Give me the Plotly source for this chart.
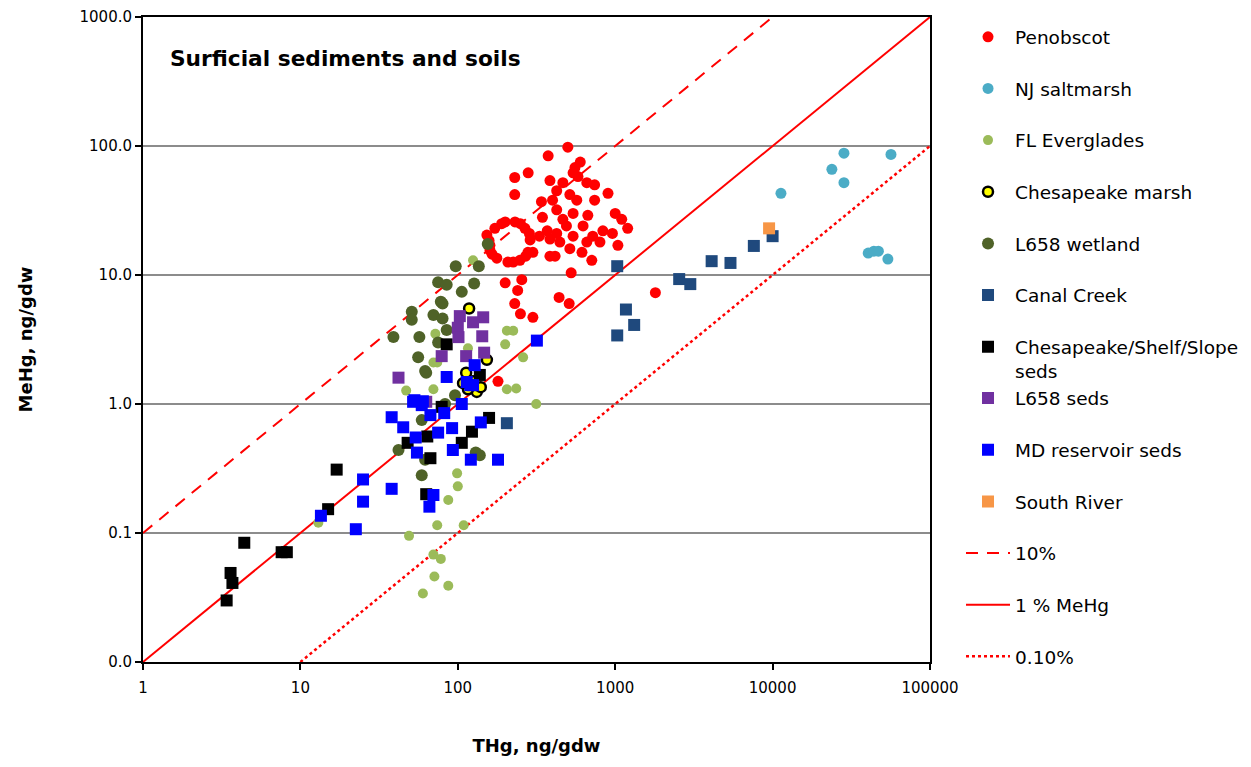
import plotly.graph_objects as go

# ---------------- data (THg ng/gdw, MeHg ng/gdw) ----------------
penobscot_x = [500, 375, 600, 555, 540, 580, 230, 280, 385, 230, 465, 660, 740, 900, 425, 515, 740, 340, 400, 570,
               425, 540, 670, 345, 1000, 1100, 1200, 465, 490, 370, 425, 625, 835, 960, 540, 720, 330, 385, 445, 515,
               660, 800, 1040, 415, 615, 710, 300,
               153, 160, 172, 200, 231, 267, 288, 279, 248, 208, 177, 160, 190, 250, 285, 270, 225, 165, 158,
               200, 255, 240, 230, 250, 300, 440, 510, 525, 1800, 385, 180]
penobscot_y = [98, 84, 75, 68, 62, 58, 57, 62, 54, 42, 52, 52, 50, 43, 45, 42, 38, 37, 38, 38,
               32, 30, 29, 28, 30, 27, 23, 27, 24, 22, 21, 24, 22, 21, 20, 20, 20, 19, 18, 16,
               18, 18, 17, 14, 15, 13, 15,
               20.4, 15.6, 23, 25.8, 25.8, 23, 18.7, 15, 13, 12.6, 13.5, 17, 25, 25, 21, 14, 12.6, 14.5, 18.5,
               8.7, 9.2, 7.6, 6, 5, 4.7, 6.7, 6, 10.4, 7.3, 14, 1.5]

nj_x = [11300, 23800, 28400, 28400, 56500, 40500, 44000, 47000, 54000]
nj_y = [43, 66, 52, 88, 86, 14.8, 15.3, 15.3, 13.3]

fl_x = [74, 109, 49, 70, 78, 71, 87, 60, 99, 100, 87, 13, 205, 225, 200, 260, 205, 235, 315, 72, 70, 47, 70, 125, 116, 74]
fl_y = [0.115, 0.115, 0.095, 0.068, 0.063, 0.046, 0.039, 0.034, 0.29, 0.23, 0.18, 0.12, 3.7, 3.7, 2.9, 2.3, 1.3, 1.32, 1.0,
        3.5, 2.1, 1.27, 1.3, 13, 2.7, 2.1]

marsh_x = [118, 153, 113, 132, 116, 108, 125, 140]
marsh_y = [5.5, 2.2, 1.75, 1.24, 1.3, 1.45, 1.5, 1.35]

wet_x = [155, 97, 136, 75, 85, 127, 106, 78, 51, 51, 70, 80, 39, 57, 75, 56, 62, 85, 63, 96, 83, 59, 42, 138, 130, 59, 62, 80]
wet_y = [17.4, 11.7, 11.7, 8.8, 8.4, 8.6, 7.4, 6.2, 5.2, 4.5, 4.9, 4.6, 3.3, 3.3, 3.0, 2.3, 1.8, 3.75, 1.75, 1.17, 1.0, 0.75,
         0.44, 0.40, 0.42, 0.28, 0.37, 6.0]

canal_x = [1030, 2550, 3000, 4100, 5400, 7600, 10000, 1170, 1320, 1030, 205]
canal_y = [11.7, 9.3, 8.5, 12.8, 12.4, 16.8, 20, 5.4, 4.1, 3.4, 0.71]

shelf_x = [17, 4.4, 7.6, 8.2, 3.6, 3.7, 3.4, 15, 63, 67, 48, 64, 106, 123, 158, 138, 79, 85]
shelf_y = [0.31, 0.084, 0.071, 0.071, 0.049, 0.041, 0.030, 0.153, 0.20, 0.38, 0.50, 0.56, 0.50, 0.61, 0.78, 1.68, 0.95, 2.9]

l658seds_x = [103, 145, 125, 100, 101, 143, 79, 113, 147, 42, 63]
l658seds_y = [4.8, 4.7, 4.3, 3.9, 3.3, 3.35, 2.35, 2.35, 2.5, 1.6, 1.04]

mdres_x = [38, 45, 54, 55, 25, 25, 38, 13.5, 22.5, 70, 66, 93, 121, 180, 140, 75, 92, 67, 82,
           85, 120, 52, 59, 106, 318, 128, 114, 125, 53, 60]
mdres_y = [0.79, 0.66, 0.55, 0.42, 0.26, 0.175, 0.22, 0.136, 0.107, 0.197, 0.16, 0.44, 0.37, 0.37, 0.72, 0.6, 0.65, 0.82, 0.85,
           1.62, 1.4, 1.04, 0.98, 1.0, 3.1, 2.0, 1.48, 1.4, 1.07, 1.05]

south_x = [9500]
south_y = [23]

# reference lines: MeHg fraction of THg
line10_x = [1, 10000]
line1_x = [1, 100000]
line01_x = [10, 100000]

x_tickvals = [1, 10, 100, 1000, 10000, 100000]
x_ticktext = ["1", "10", "100", "1000", "10000", "100000"]
y_tickvals = [0.01, 0.1, 1, 10, 100, 1000]
y_ticktext = ["0.0", "0.1", "1.0", "10.0", "100.0", "1000.0"]

FONT = "DejaVu Sans"
fig = go.Figure()

# lines (drawn behind the points, listed last in legend)
fig.add_trace(go.Scatter(x=line10_x, y=[v * 0.1 for v in line10_x], mode="lines", name="10%",
                         line=dict(color="#FF0000", width=2, dash="12px,9px"), legend="legend2", legendrank=11,
                         legendgroup="g11"))
fig.add_trace(go.Scatter(x=line1_x, y=[v * 0.01 for v in line1_x], mode="lines", name="1 % MeHg",
                         line=dict(color="#FF0000", width=2), legend="legend2", legendrank=12, legendgroup="g12"))
fig.add_trace(go.Scatter(x=line01_x, y=[v * 0.001 for v in line01_x], mode="lines", name="0.10%",
                         line=dict(color="#FF0000", width=2.5, dash="dot"), legend="legend2", legendrank=13,
                         legendgroup="g13"))

series = [
    ("Penobscot", penobscot_x, penobscot_y, "circle", "#FF0000", 11, None, "legend"),
    ("NJ saltmarsh", nj_x, nj_y, "circle", "#4BACC6", 11, None, "legend"),
    ("FL Everglades", fl_x, fl_y, "circle", "#9BBB59", 10, None, "legend"),
    ("Chesapeake marsh", marsh_x, marsh_y, "circle", "#FFFF00", 10, "#000000", "legend"),
    ("L658 wetland", wet_x, wet_y, "circle", "#4F6228", 12, None, "legend"),
    ("Canal Creek", canal_x, canal_y, "square", "#1F497D", 12, None, "legend"),
    ("Chesapeake/Shelf/Slope<br>seds", shelf_x, shelf_y, "square", "#000000", 12, None, "legend"),
    ("L658 seds", l658seds_x, l658seds_y, "square", "#7030A0", 12, None, "legend2"),
    ("MD reservoir seds", mdres_x, mdres_y, "square", "#0000FF", 12, None, "legend2"),
    ("South River", south_x, south_y, "square", "#F79646", 12, None, "legend2"),
]
for i, (name, xs, ys, sym, col, size, lc, lg) in enumerate(series):
    mk = dict(symbol=sym, color=col, size=size, line=dict(width=0))
    if lc:
        mk["line"] = dict(width=2.5, color=lc)
    fig.add_trace(go.Scatter(x=xs, y=ys, mode="markers", name=name, marker=mk,
                             legend=lg, legendrank=i + 1, legendgroup="g%d" % i))

axis_common = dict(showline=True, linecolor="black", linewidth=2, mirror=True,
                   ticks="outside", ticklen=6, tickwidth=2, tickcolor="black", automargin=False,
                   tickfont=dict(family=FONT, size=15, color="black"))

legend_common = dict(xanchor="left", yanchor="top", traceorder="grouped", tracegroupgap=24.6,
                     font=dict(family=FONT, size=18.5, color="black"), valign="top",
                     bgcolor="rgba(0,0,0,0)", itemsizing="trace", itemwidth=44)

fig.update_layout(
    width=1251, height=767,
    paper_bgcolor="white", plot_bgcolor="white",
    margin=dict(l=143, r=321, t=17, b=105, autoexpand=False),
    showlegend=True,
    xaxis=dict(type="log", range=[0, 5], tickvals=x_tickvals, ticktext=x_ticktext, showgrid=False,
               ticklabelstandoff=5,
               title=dict(text="<b>THg, ng/gdw</b>", font=dict(family=FONT, size=18, color="black"), standoff=43),
               **axis_common),
    yaxis=dict(type="log", range=[-2, 3], tickvals=y_tickvals, ticktext=y_ticktext,
               showgrid=True, gridcolor="#8C8C8C", gridwidth=1.5,
               title=dict(text="<b>MeHg, ng/gdw</b>", font=dict(family=FONT, size=18, color="black"), standoff=42),
               **axis_common),
    legend=dict(x=1.0394, y=0.998, **legend_common),
    legend2=dict(x=1.0394, y=0.4379, **legend_common),
    annotations=[dict(text="<b>Surficial sediments and soils</b>", xref="paper", yref="paper",
                      x=0.032, y=0.935, xanchor="left", yanchor="middle", showarrow=False,
                      font=dict(family=FONT, size=21.7, color="black"))],
)

fig.write_html("out.html")
